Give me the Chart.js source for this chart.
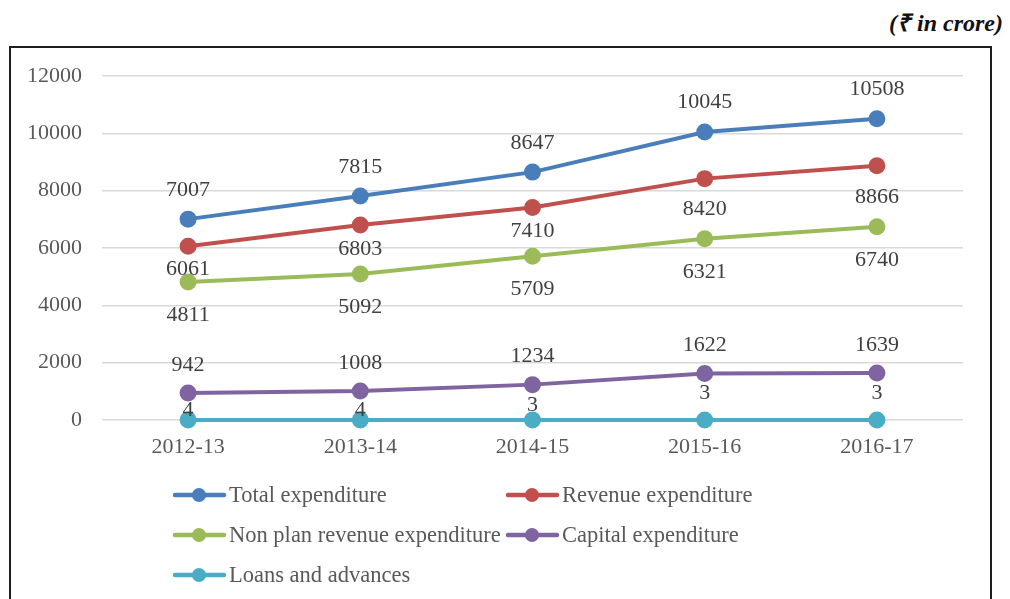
<!DOCTYPE html>
<html>
<head>
<meta charset="utf-8">
<script src="https://cdn.jsdelivr.net/npm/chart.js@4.4.0/dist/chart.umd.min.js"></script>
<style>
  html, body { margin: 0; padding: 0; background: #fff; }
  body { width: 1010px; height: 599px; position: relative; overflow: hidden; font-family: "Liberation Serif", "Times New Roman", serif; }
  #unit { position: absolute; right: 7px; top: 5px; font-size: 24px; font-weight: bold; font-style: italic; color: #111; }
  #box { position: absolute; left: 9px; top: 46px; width: 983px; height: 600px; border: 2.5px solid #1e1e1e; box-sizing: border-box; }
  #wrap { position: absolute; left: 0; top: 0; width: 1010px; height: 599px; }
</style>
</head>
<body>
<div id="unit">(₹ in crore)</div>
<div id="box"></div>
<div id="wrap"><canvas id="c" width="1010" height="599"></canvas></div>
<script>
const categories = ["2012-13", "2013-14", "2014-15", "2015-16", "2016-17"];
const totalExpenditure = [7007, 7815, 8647, 10045, 10508];
const revenueExpenditure = [6061, 6803, 7410, 8420, 8866];
const nonPlanRevenueExpenditure = [4811, 5092, 5709, 6321, 6740];
const capitalExpenditure = [942, 1008, 1234, 1622, 1639];
const loansAndAdvances = [4, 4, 3, 3, 3];
const yTicks = [0, 2000, 4000, 6000, 8000, 10000, 12000];

const FONT = '"Liberation Serif", "Times New Roman", serif';

function ds(label, data, color, offsets) {
  return {
    label, data,
    borderColor: color, backgroundColor: color,
    pointBackgroundColor: color, pointBorderColor: color,
    borderWidth: 4, pointRadius: 6.5, pointHoverRadius: 6.5,
    tension: 0, clip: false, labelOffsets: offsets
  };
}

const dataLabels = {
  id: 'dataLabels',
  afterDatasetsDraw(chart) {
    const ctx = chart.ctx;
    ctx.save();
    ctx.font = '22px ' + FONT;
    ctx.fillStyle = '#404040';
    ctx.textAlign = 'center';
    ctx.textBaseline = 'middle';
    chart.data.datasets.forEach((d, i) => {
      const meta = chart.getDatasetMeta(i);
      meta.data.forEach((pt, j) => {
        ctx.fillText(String(d.data[j]), pt.x, pt.y + d.labelOffsets[j]);
      });
    });
    ctx.restore();
  }
};

const gridLegend = {
  id: 'gridLegend',
  afterDraw(chart) {
    const ctx = chart.ctx;
    const cols = [173, 506];
    const rows = [495, 535, 575];
    ctx.save();
    ctx.font = '22.5px ' + FONT;
    ctx.textBaseline = 'middle';
    ctx.textAlign = 'left';
    chart.data.datasets.forEach((d, i) => {
      const x = cols[i % 2], y = rows[Math.floor(i / 2)];
      ctx.strokeStyle = d.borderColor;
      ctx.lineWidth = 4.5;
      ctx.lineCap = 'round';
      ctx.beginPath(); ctx.moveTo(x + 2, y); ctx.lineTo(x + 51, y); ctx.stroke();
      ctx.fillStyle = d.borderColor;
      ctx.beginPath(); ctx.arc(x + 26, y, 7, 0, Math.PI * 2); ctx.fill();
      ctx.fillStyle = '#595959';
      ctx.fillText(d.label, x + 56, y + 1);
    });
    ctx.restore();
  }
};

new Chart(document.getElementById('c'), {
  type: 'line',
  data: {
    labels: categories,
    datasets: [
      ds('Total expenditure', totalExpenditure, '#4a7ebb', [-29, -29, -29, -30, -30]),
      ds('Revenue expenditure', revenueExpenditure, '#c0504d', [23, 24, 24, 31, 31]),
      ds('Non plan revenue expenditure', nonPlanRevenueExpenditure, '#9bbb59', [33, 33, 33, 33, 33]),
      ds('Capital expenditure', capitalExpenditure, '#8064a2', [-28, -28, -28, -28, -28]),
      ds('Loans and advances', loansAndAdvances, '#4bacc6', [-10, -10, -15, -27, -27])
    ]
  },
  options: {
    responsive: false,
    animation: false,
    events: [],
    layout: { padding: { left: 0, top: 76, right: 47, bottom: 134 } },
    plugins: { legend: { display: false }, tooltip: { enabled: false } },
    scales: {
      x: {
        offset: true,
        grid: { display: false, drawTicks: false },
        border: { display: false },
        ticks: { color: '#595959', font: { family: FONT, size: 22 }, padding: 14, maxRotation: 0 },
        afterFit(s) { s.height = 45; }
      },
      y: {
        min: 0, max: 12000,
        afterBuildTicks(s) { s.ticks = yTicks.map(v => ({ value: v })); },
        grid: { color: '#d9d9d9', lineWidth: 1.5, drawTicks: false },
        border: { display: false },
        ticks: { color: '#595959', font: { family: FONT, size: 22 }, padding: 20, callback: v => String(v) },
        afterFit(s) { s.width = 102; }
      }
    }
  },
  plugins: [dataLabels, gridLegend]
});
</script>
</body>
</html>
